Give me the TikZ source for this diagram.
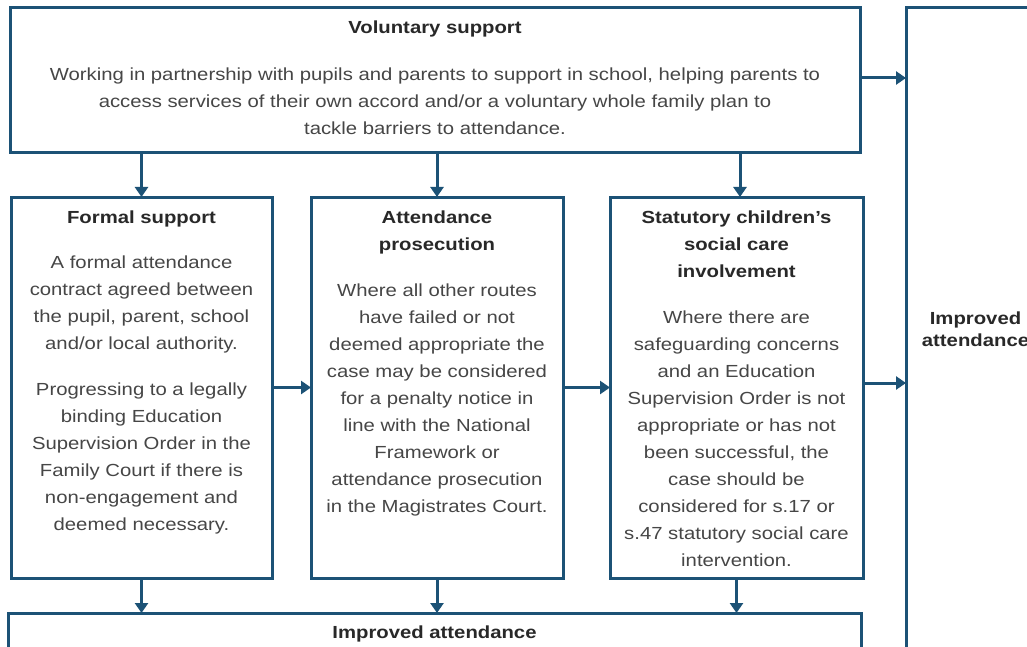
\documentclass[tikz,border=0pt]{standalone}
\usepackage{fontspec}
\setmainfont{Liberation Sans}[FakeStretch=1.16]
\usetikzlibrary{arrows.meta}
\definecolor{bord}{RGB}{28,82,118}
\definecolor{txt}{RGB}{70,70,70}
\definecolor{ttl}{RGB}{40,40,40}
\begin{document}
\begin{tikzpicture}[x=1pt,y=-1pt,
  box/.style={draw=bord,line width=3pt,fill=white,inner sep=0pt,outer sep=0pt,rectangle},
  arr/.style={draw=bord,line width=3pt,-{Triangle[length=10pt,width=13pt]}},
  body/.style={text=txt,align=center,inner sep=0pt,anchor=north,font=\fontsize{17.5}{27}\selectfont},
  ttlf/.style={font=\fontsize{17.5}{27}\selectfont\bfseries}]
\useasboundingbox (0,0) rectangle (1027,647);
\clip (0,0) rectangle (1027,647);
\fill[white] (0,0) rectangle (1027,647);
% boxes
\node[box,minimum width=850pt,minimum height=145pt] (top) at (435,80.5) {};
\node[box,minimum width=261pt,minimum height=381pt] (formal) at (141.5,387.5) {};
\node[box,minimum width=252pt,minimum height=381pt] (pros) at (437,387.5) {};
\node[box,minimum width=253pt,minimum height=381pt] (stat) at (736.5,387.5) {};
\node[box,minimum width=853pt,minimum height=44pt] (bottom) at (434.5,635) {};
\node[box,minimum width=139pt,minimum height=660pt] (right) at (975.5,338) {};
% texts
\node[body] (toptxt) at (435,20.5) {{\color{ttl}\bfseries Voluntary support}\\[20pt]
Working in partnership with pupils and parents to support in school, helping parents to\\
access services of their own accord and/or a voluntary whole family plan to\\
tackle barriers to attendance.};
\node[body] (formaltxt) at (141.5,210.5) {{\color{ttl}\bfseries Formal support}\\[18pt]
A formal attendance\\contract agreed between\\the pupil, parent, school\\and/or local authority.\\[19pt]
Progressing to a legally\\binding Education\\Supervision Order in the\\Family Court if there is\\non-engagement and\\deemed necessary.};
\node[body] (prostxt) at (437,210.5) {{\color{ttl}\bfseries Attendance}\\{\color{ttl}\bfseries prosecution}\\[19pt]
Where all other routes\\have failed or not\\deemed appropriate the\\case may be considered\\for a penalty notice in\\line with the National\\Framework or\\attendance prosecution\\in the Magistrates Court.};
\node[body] (stattxt) at (736.5,210.5) {{\color{ttl}\bfseries Statutory children’s}\\{\color{ttl}\bfseries social care}\\{\color{ttl}\bfseries involvement}\\[19pt]
Where there are\\safeguarding concerns\\and an Education\\Supervision Order is not\\appropriate or has not\\been successful, the\\case should be\\considered for s.17 or\\s.47 statutory social care\\intervention.};
\node[body,text=ttl,ttlf] (bottomtxt) at (434.5,625.5) {Improved attendance};
\node[body,text=ttl,ttlf] (righttxt) at (975.5,311.5) {Improved\\[-5pt]attendance};
% arrows
\draw[arr] (formal.north |- top.south) -- (formal.north);
\draw[arr] (pros.north |- top.south) -- (pros.north);
\draw[arr] ([xshift=3.5pt]stat.north |- top.south) -- ([xshift=3.5pt]stat.north);
\draw[arr] (formal.east) -- (pros.west);
\draw[arr] (pros.east) -- (stat.west);
\draw[arr] (formal.south) -- (formal.south |- bottom.north);
\draw[arr] (pros.south) -- (pros.south |- bottom.north);
\draw[arr] (stat.south) -- (stat.south |- bottom.north);
\draw[arr] ([yshift=2.5pt]top.east) -- ([yshift=2.5pt]top.east -| right.west);
\draw[arr] ([yshift=4.5pt]stat.east) -- ([yshift=4.5pt]stat.east -| right.west);
\end{tikzpicture}
\end{document}
